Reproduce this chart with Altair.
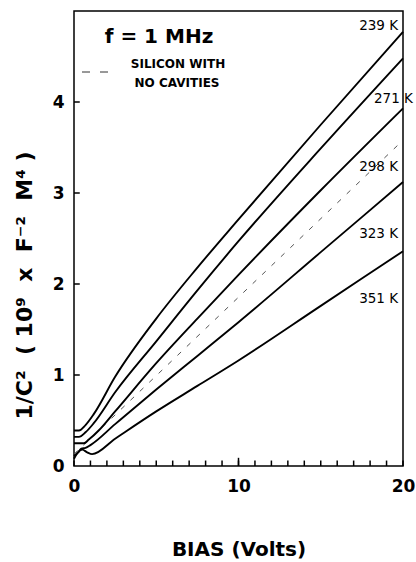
import altair as alt
import pandas as pd

# ---- data ----
series_names = ["239 K", "271 K", "298 K", "323 K", "351 K"]

v239 = [0, 0.3, 0.7, 1.2, 2.5, 5, 7.5, 10, 15, 20]
y239 = [0.39, 0.39, 0.45, 0.57, 0.98, 1.62, 2.18, 2.71, 3.75, 4.77]

v271 = [0, 0.3, 0.7, 1.2, 2.5, 5, 7.5, 10, 15, 20]
y271 = [0.32, 0.32, 0.37, 0.47, 0.81, 1.37, 1.93, 2.47, 3.49, 4.48]

v298 = [0, 0.6, 0.9, 1.5, 2.5, 5, 7.5, 10, 15, 20]
y298 = [0.25, 0.25, 0.29, 0.39, 0.60, 1.13, 1.62, 2.10, 3.03, 3.93]

v323 = [0, 0.25, 0.45, 0.7, 1.0, 2.5, 5, 7.5, 10, 15, 20]
y323 = [0.11, 0.15, 0.19, 0.20, 0.23, 0.46, 0.84, 1.21, 1.58, 2.35, 3.12]

v351 = [0, 0.2, 0.5, 0.8, 1.1, 2.5, 5, 7.5, 10, 15, 20]
y351 = [0.08, 0.14, 0.18, 0.15, 0.13, 0.30, 0.60, 0.88, 1.16, 1.76, 2.36]

v_ref = [0, 20]          # silicon with no cavities (dashed)
y_ref = [0.13, 3.58]

label_x = [19.7, 20.6, 19.7, 19.7, 19.7]
label_y = [4.84, 4.03, 3.29, 2.55, 1.83]

x_ticks = list(range(0, 21))
x_major = [10]
y_ticks = [1, 2, 3, 4]
x_labels = [0, 10, 20]
y_labels = [0, 1, 2, 3, 4]

notes = ["f = 1 MHz", "SILICON WITH", "NO CAVITIES"]

# ---- build tables ----
rows = []
for name, vs, ys in zip(series_names, [v239, v271, v298, v323, v351],
                        [y239, y271, y298, y323, y351]):
    for i, (v, y) in enumerate(zip(vs, ys)):
        rows.append({"T": name, "V": v, "Y": y, "o": i})
curves = pd.DataFrame(rows)
ref = pd.DataFrame({"V": v_ref, "Y": y_ref})
labels = pd.DataFrame({"T": series_names, "V": label_x, "Y": label_y})
xtick_df = pd.DataFrame({"TX": [float(v) for v in x_ticks]})
xmaj_df = pd.DataFrame({"TX": [float(v) for v in x_major]})
ytick_df = pd.DataFrame({"TY": [float(v) for v in y_ticks]})

BOLD = "DejaVu Sans"
NB = "\u00a0"
TICK = "black"
xs = alt.Scale(domain=[0, 20], nice=False, zero=False)
ys = alt.Scale(domain=[0, 5], nice=False)

x_axis = alt.Axis(values=x_labels, format="d", ticks=False, tickSize=0, domain=False,
                  grid=False, labelFlush=False,
                  labelFont=BOLD, labelFontWeight="bold", labelFontSize=17,
                  labelColor="black", labelPadding=12,
                  title="BIAS (Volts)", titleFont=BOLD, titleFontWeight="bold",
                  titleFontSize=20, titleColor="black", titleY=83,
                  titleBaseline="middle")
y_title = ("1/C\u00b2" + NB * 2 + "(" + NB + "10\u2079" + NB * 2 + "x" + NB * 2 +
           "F\u207b\u00b2" + NB * 2 + "M\u2074" + NB + ")")
y_axis = alt.Axis(values=y_labels, format="d", ticks=False, tickSize=0, domain=False,
                  grid=False, labelFlush=False,
                  labelFont=BOLD, labelFontWeight="bold", labelFontSize=17,
                  labelColor="black", labelPadding=10,
                  title=y_title,
                  titleFont=BOLD, titleFontWeight="bold", titleFontSize=22,
                  titleColor="black", titleAngle=270, titleX=-50, titleY=274,
                  titleAlign="center", titleBaseline="middle")

lines = alt.Chart(curves).mark_line(color="black", strokeWidth=1.9,
                                    interpolate="monotone").encode(
    x=alt.X("V:Q", scale=xs, axis=x_axis),
    y=alt.Y("Y:Q", scale=ys, axis=y_axis),
    detail="T:N",
    order="o:Q",
)

dashed = alt.Chart(ref).mark_line(color="#555555", strokeWidth=1,
                                  strokeDash=[5, 8]).encode(
    x=alt.X("V:Q", scale=xs), y=alt.Y("Y:Q", scale=ys))

temp_text = alt.Chart(labels).mark_text(align="right", baseline="middle",
                                        font="DejaVu Sans", fontSize=13.5,
                                        fontWeight="normal", color="black").encode(
    x=alt.X("V:Q", scale=xs), y=alt.Y("Y:Q", scale=ys), text="T:N")

xt = alt.Chart(xtick_df).mark_rule(color=TICK, strokeWidth=1.5).encode(
    x=alt.X("TX:Q", scale=xs), y=alt.datum(0), y2=alt.datum(0.06))
xtm = alt.Chart(xmaj_df).mark_rule(color=TICK, strokeWidth=1.5).encode(
    x=alt.X("TX:Q", scale=xs), y=alt.datum(0), y2=alt.datum(0.09))
yt = alt.Chart(ytick_df).mark_rule(color=TICK, strokeWidth=1.5).encode(
    y=alt.Y("TY:Q", scale=ys), x=alt.datum(0), x2=alt.datum(0.35))

n1 = alt.Chart(pd.DataFrame({"t": [notes[0]]})).mark_text(
    font=BOLD, fontWeight="bold", fontSize=20, color="black",
    align="center", baseline="middle").encode(
    text="t:N", x=alt.value(85), y=alt.value(26))
n2 = alt.Chart(pd.DataFrame({"t": [notes[1]]})).mark_text(
    font=BOLD, fontWeight="bold", fontSize=12, color="black",
    align="center", baseline="middle").encode(
    text="t:N", x=alt.value(104), y=alt.value(53))
n3 = alt.Chart(pd.DataFrame({"t": [notes[2]]})).mark_text(
    font=BOLD, fontWeight="bold", fontSize=12, color="black",
    align="center", baseline="middle").encode(
    text="t:N", x=alt.value(103), y=alt.value(72))
leg = alt.Chart(pd.DataFrame({"t": [notes[1]]})).mark_rule(
    color="#333333", strokeWidth=1, strokeDash=[8, 10]).encode(
    x=alt.value(8), x2=alt.value(34), y=alt.value(61))

chart = alt.layer(dashed, lines, temp_text, xt, xtm, yt, n1, n2, n3, leg).properties(
    width=329, height=455,
    autosize=alt.AutoSizeParams(type="none"),
    padding={"left": 74, "top": 11, "right": 13, "bottom": 96},
    background="white",
).configure_view(stroke="black", strokeWidth=1.5)

chart.save("out.html", embed_options={"renderer": "svg", "actions": False})
